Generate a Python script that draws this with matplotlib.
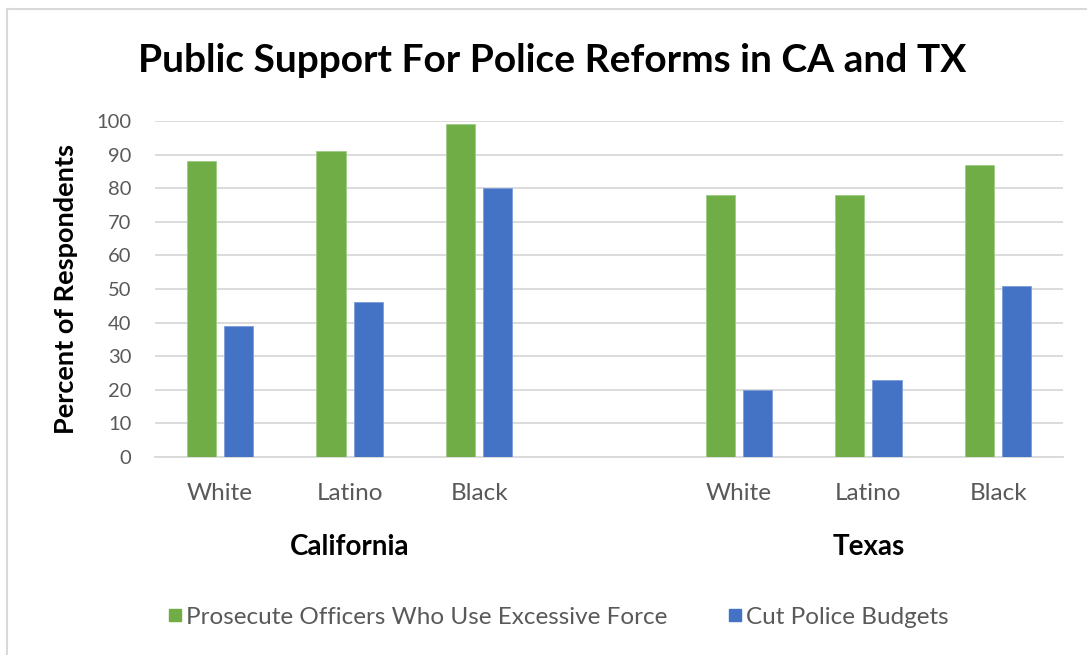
import matplotlib
matplotlib.use("Agg")
import matplotlib.pyplot as plt
from matplotlib.lines import Line2D
import numpy as np

plt.rcParams['font.family'] = ['Lato', 'DejaVu Sans']

# data
groups = ['California', 'Texas']
races = ['White', 'Latino', 'Black']
prosecute = {'California': [88, 91, 99], 'Texas': [78, 78, 87]}
cut_budget = {'California': [39, 46, 80], 'Texas': [20, 23, 51]}
series_names = ['Prosecute Officers Who Use Excessive Force', 'Cut Police Budgets']
green = '#70AD47'
blue = '#4472C4'

fig = plt.figure(figsize=(10.87, 6.55), dpi=100)
ax = fig.add_axes([155/1087, 1-457/655, (1063-155)/1087, (457-121)/655])

# 7 slots: 3 CA, 1 empty, 3 TX
pos = {'California': np.array([0, 1, 2]), 'Texas': np.array([4, 5, 6])}
w = 0.224
off = 0.143
for g in groups:
    ax.bar(pos[g] - off, prosecute[g], w, color=green, edgecolor='#9FCB85', linewidth=0.6, zorder=3)
    ax.bar(pos[g] + off, cut_budget[g], w, color=blue, edgecolor='#7C9CD8', linewidth=0.6, zorder=3)

ax.set_xlim(-0.5, 6.5)
ax.set_ylim(0, 100)
ax.set_yticks(range(0, 101, 10))
ax.yaxis.grid(True, color='#D9D9D9', linewidth=1.3, zorder=0)
ax.set_axisbelow(True)
for s in ['top', 'right', 'left']:
    ax.spines[s].set_visible(False)
ax.spines['bottom'].set_color('#D9D9D9')
ax.spines['bottom'].set_linewidth(1.3)
ax.tick_params(axis='y', length=0, labelsize=14.5, colors='#595959', pad=17)
ax.tick_params(axis='x', length=0, labelsize=17.5, colors='#595959', pad=19)
ticks = list(pos['California']) + list(pos['Texas'])
ax.set_xticks(ticks)
ax.set_xticklabels(races + races)

for g in groups:
    ax.text(pos[g].mean(), -26.8, g, transform=ax.transData, ha='center', va='center',
            fontsize=20, fontweight='bold', color='black')

fig.text(66/1087, 1-289/655, 'Percent of Respondents', rotation=90, ha='center', va='center',
         fontsize=19.5, fontweight='bold', color='black')

fig.text(552/1087, 1-60/655, 'Public Support For Police Reforms in CA and TX', ha='center', va='center',
         fontsize=28, fontweight='bold', color='black')

handles = [Line2D([], [], marker='s', linestyle='none', markersize=9, color=green),
           Line2D([], [], marker='s', linestyle='none', markersize=9, color=blue)]
fig.legend(handles, series_names, loc='center', bbox_to_anchor=(557/1087, 1-617/655), ncol=2,
           frameon=False, fontsize=17.5, labelcolor='#595959', handletextpad=0.05, columnspacing=2.4,
           handlelength=0.8)

# outer frame lines (top and left only)
fig.add_artist(Line2D([6.5/1087, 1], [1-8.5/655, 1-8.5/655], color='#D9D9D9', linewidth=1.5))
fig.add_artist(Line2D([6.5/1087, 6.5/1087], [0, 1-8.5/655], color='#D9D9D9', linewidth=1.5))

fig.savefig('out.png', dpi=100)
